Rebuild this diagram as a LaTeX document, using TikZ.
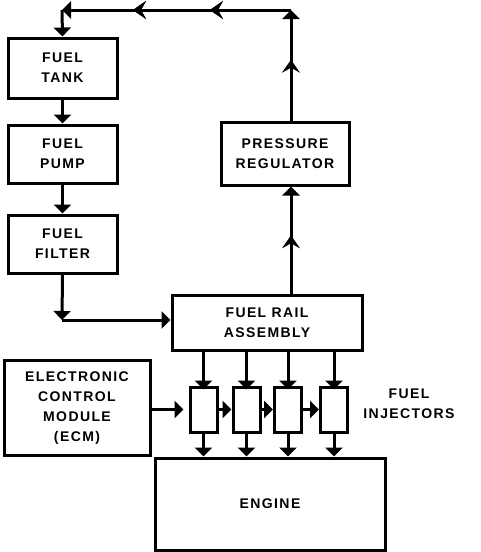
\documentclass[tikz,border=0pt]{standalone}
\usepackage{fontspec}
\setmainfont{Liberation Sans}[LetterSpace=10]
\usetikzlibrary{arrows.meta,decorations.markings}
\begin{document}
\begin{tikzpicture}[x=1pt,y=-1pt,
  box/.style={draw,line width=3pt,rectangle,align=center,inner sep=0pt,
    font=\fontsize{14}{20}\selectfont\bfseries},
  inj/.style={draw,line width=3pt,rectangle,minimum width=27pt,minimum height=45pt,inner sep=0pt},
  conn/.style={line width=3pt,-{Triangle[width=17pt,length=9pt]}},
  midarr/.style={postaction={decorate},decoration={markings,
    mark=at position #1 with {\arrow{Stealth[width=18pt,length=13pt,inset=5pt]}}}},
  lbl/.style={align=center,inner sep=0pt,font=\fontsize{14}{20}\selectfont\bfseries}]
\useasboundingbox (0,0) rectangle (480,552);
\node[box,minimum width=109pt,minimum height=60pt] (tank) at (62.5,68) {FUEL\\TANK};
\node[box,minimum width=109pt,minimum height=58pt] (pump) at (62.5,154) {FUEL\\PUMP};
\node[box,minimum width=109pt,minimum height=58pt] (filter) at (62.5,244) {FUEL\\FILTER};
\node[box,minimum width=128pt,minimum height=63pt] (reg) at (285,153.5) {PRESSURE\\REGULATOR};
\node[box,minimum width=190pt,minimum height=55pt] (rail) at (267,322.5) {FUEL RAIL\\ASSEMBLY};
\node[box,minimum width=146pt,minimum height=95pt] (ecm) at (77,408) {ELECTRONIC\\CONTROL\\MODULE\\(ECM)};
\node[box,minimum width=230pt,minimum height=92pt] (engine) at (270,504) {ENGINE};
\node[inj] (i1) at (203.5,409.5) {};
\node[inj] (i2) at (246.5,409.5) {};
\node[inj] (i3) at (288,409.5) {};
\node[inj] (i4) at (334,409.5) {};
\node[lbl] (injl) at (409,404) {FUEL\\INJECTORS};
\coordinate (ctr) at (291,10);
\coordinate (ctl) at (62,10);
\coordinate (cbl) at (62,320);
% return loop
\draw[conn,midarr=0.55] (291,295) -- (reg.south -| 291,0);
\draw[conn,midarr=0.55] (reg.north -| 291,0) -- (ctr);
\draw[conn,midarr=0.354,midarr=0.69] (ctr) -- (ctl);
\draw[conn] (ctl) -- (tank.north);
% supply
\draw[conn] (tank.south) -- (pump.north);
\draw[conn] (pump.south) -- (filter.north);
\draw[conn] (filter.south) -- (cbl);
\draw[conn] (cbl) -- (rail.west |- cbl);
% injectors
\foreach \n in {i1,i2,i3,i4}{
  \draw[conn] (rail.south -| \n) -- ([yshift=-4pt]\n.north);
  \draw[conn] (\n.south) -- (engine.north -| \n);
}
\draw[conn] (ecm.east |- i1.west) -- ([xshift=-5pt]i1.west);
\draw[conn] (i1.east) -- (i2.west);
\draw[conn] (i2.east) -- (i3.west);
\draw[conn] (i3.east) -- (i4.west);
\end{tikzpicture}
\end{document}
